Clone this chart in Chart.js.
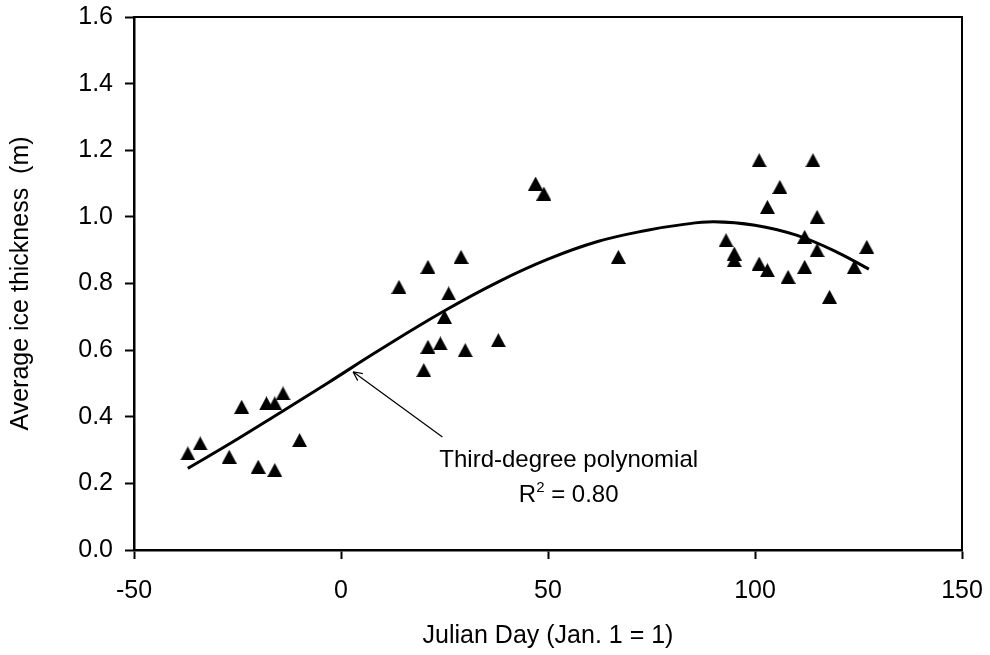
<!DOCTYPE html>
<html>
<head>
<meta charset="utf-8">
<script src="https://cdn.jsdelivr.net/npm/chart.js@4.4.1/dist/chart.umd.min.js"></script>
<style>
  html, body { margin: 0; padding: 0; background: #fff; }
</style>
</head>
<body>
<canvas id="myChart" width="990" height="655"></canvas>
<script>
// observed ice thickness
const obsDay = [-37, -34, -27, -24, -20, -18, -16, -16, -14, -10,
                14, 20, 21, 21, 24, 25, 26, 29, 30, 38,
                47, 49, 67,
                93, 95, 95, 101, 101, 103, 103, 106, 108, 112, 112, 114, 115, 115, 118, 124, 127];
const obsThick = [0.29, 0.32, 0.28, 0.43, 0.25, 0.44, 0.44, 0.24, 0.47, 0.33,
                  0.79, 0.54, 0.85, 0.61, 0.62, 0.70, 0.77, 0.88, 0.60, 0.63,
                  1.10, 1.07, 0.88,
                  0.93, 0.89, 0.87, 1.17, 0.86, 1.03, 0.84, 1.09, 0.82, 0.94, 0.85, 1.17, 1.00, 0.90, 0.76, 0.85, 0.91];

// polynomial trend line
const fitDay = [-37, -27, -15, -3, 9, 25, 38, 50, 62, 74, 82, 90, 100, 110, 120, 127.5];
const fitThick = [0.245, 0.318, 0.41, 0.503, 0.598, 0.718, 0.805, 0.873, 0.926, 0.96, 0.976, 0.985, 0.975, 0.945, 0.893, 0.843];

const xTicks = [-50, 0, 50, 100, 150];
const yTicks = [0, 0.2, 0.4, 0.6, 0.8, 1.0, 1.2, 1.4, 1.6];

const FONT = '"Liberation Sans", Arial, sans-serif';

// triangle marker
const tri = document.createElement('canvas');
tri.width = 15; tri.height = 14;
let tctx = tri.getContext('2d');
tctx.fillStyle = '#000';
tctx.beginPath();
tctx.moveTo(7.5, 0);
tctx.lineTo(15, 14);
tctx.lineTo(0, 14);
tctx.closePath();
tctx.fill();

let obsPoints = obsDay.map(function (d, i) { return {x: d, y: obsThick[i]}; });
let fitPoints = fitDay.map(function (d, i) { return {x: d, y: fitThick[i]}; });

const extras = {
  id: 'extras',
  afterDraw(chart) {
    const ctx = chart.ctx;
    const a = chart.chartArea;
    const xs = chart.scales.x, ys = chart.scales.y;
    ctx.save();
    // top + right frame
    ctx.strokeStyle = '#000';
    ctx.lineWidth = 2;
    ctx.beginPath();
    ctx.moveTo(a.left, a.top);
    ctx.lineTo(a.right, a.top);
    ctx.lineTo(a.right, a.bottom);
    ctx.stroke();

    // arrow
    let x0 = xs.getPixelForValue(24.5), y0 = ys.getPixelForValue(0.339);
    let x1 = xs.getPixelForValue(2.9), y1 = ys.getPixelForValue(0.535);
    ctx.lineWidth = 1.2;
    ctx.beginPath();
    ctx.moveTo(x0, y0);
    ctx.lineTo(x1, y1);
    let ang = Math.atan2(y1 - y0, x1 - x0);
    let hl = 10;
    ctx.moveTo(x1, y1);
    ctx.lineTo(x1 - hl * Math.cos(ang - 0.45), y1 - hl * Math.sin(ang - 0.45));
    ctx.moveTo(x1, y1);
    ctx.lineTo(x1 - hl * Math.cos(ang + 0.45), y1 - hl * Math.sin(ang + 0.45));
    ctx.stroke();

    // label
    ctx.fillStyle = '#000';
    ctx.textBaseline = 'alphabetic';
    ctx.textAlign = 'center';
    ctx.font = '24px ' + FONT;
    let cx = xs.getPixelForValue(55);
    ctx.fillText('Third-degree polynomial', cx, ys.getPixelForValue(0.249));

    let by = ys.getPixelForValue(0.145);
    ctx.textAlign = 'left';
    let w1 = ctx.measureText('R').width;
    let w3 = ctx.measureText(' = 0.80').width;
    ctx.font = '15px ' + FONT;
    let w2 = ctx.measureText('2').width;
    let sx = cx - (w1 + w2 + w3) / 2;
    ctx.font = '24px ' + FONT;
    ctx.fillText('R', sx, by);
    ctx.fillText(' = 0.80', sx + w1 + w2, by);
    ctx.font = '15px ' + FONT;
    ctx.fillText('2', sx + w1, by - 10);
    ctx.restore();
  }
};

var ctx = document.getElementById('myChart');
var graphique = new Chart(ctx.getContext('2d'), {
  type: 'scatter',
  data: {
    datasets: [{
      label: 'Observed',
      data: obsPoints,
      pointStyle: tri,
      pointRadius: 8,
      pointHoverRadius: 8,
      backgroundColor: '#000',
      borderColor: '#000',
      order: 2
    }, {
      label: 'Third-degree polynomial',
      data: fitPoints,
      showLine: true,
      pointRadius: 0,
      borderColor: '#000',
      borderWidth: 3,
      tension: 0.4,
      order: 1
    }]
  },
  options: {
    responsive: false,
    devicePixelRatio: 1,
    animation: false,
    layout: { padding: { top: 17, right: 28, left: 0, bottom: 0 } },
    plugins: {
      legend: { display: false },
      tooltip: { enabled: false }
    },
    scales: {
      x: {
        type: 'linear',
        min: -50, max: 150,
        afterFit: function (scale) {
          scale.height = 105;
          scale.paddingLeft = 0; scale.paddingRight = 0;
        },
        afterBuildTicks: function (scale) { scale.ticks = xTicks.map(function (v) { return {value: v}; }); },
        grid: { drawOnChartArea: false, drawTicks: true, tickLength: 9, tickColor: '#000', tickWidth: 2 },
        border: { display: true, color: '#000', width: 2.5 },
        ticks: { color: '#000', padding: 17, font: { family: FONT, size: 25 } },
        title: {
          display: true, text: 'Julian Day (Jan. 1 = 1)', color: '#000',
          font: { family: FONT, size: 25 }, padding: { top: 0, bottom: 4 }
        }
      },
      y: {
        type: 'linear',
        min: 0, max: 1.6,
        afterFit: function (scale) {
          scale.width = 134;
          scale.paddingTop = 0; scale.paddingBottom = 0;
        },
        afterBuildTicks: function (scale) { scale.ticks = yTicks.map(function (v) { return {value: v}; }); },
        grid: { drawOnChartArea: false, drawTicks: true, tickLength: 9, tickColor: '#000', tickWidth: 2 },
        border: { display: true, color: '#000', width: 2.5 },
        ticks: {
          color: '#000', padding: 12, font: { family: FONT, size: 25 },
          callback: function (v) { return v.toFixed(1); }
        },
        title: {
          display: true, text: 'Average ice thickness  (m)', color: '#000',
          font: { family: FONT, size: 25 }, padding: { top: 6, bottom: 0 }
        }
      }
    }
  },
  plugins: [extras]
});
</script>
</body>
</html>
